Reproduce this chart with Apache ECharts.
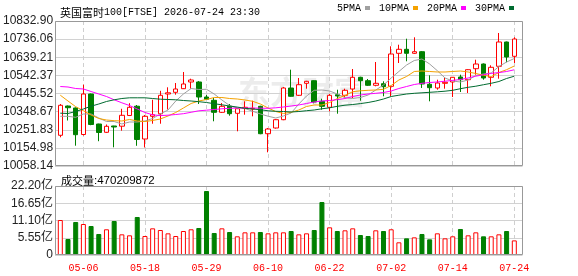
<!DOCTYPE html>
<html><head><meta charset="utf-8">
<script src="https://cdn.jsdelivr.net/npm/echarts@6/dist/echarts.min.js"></script>
<style>html,body{margin:0;padding:0;background:#fff}#c{width:578px;height:276px}</style>
</head><body><div id="c"></div>
<script>
const dates = ['04-30','05-01','05-05','05-06','05-07','05-08','05-11','05-12','05-13','05-14','05-15','05-18','05-19','05-20','05-21','05-22','05-26','05-27','05-28','05-29','06-01','06-02','06-03','06-04','06-05','06-08','06-09','06-10','06-11','06-12','06-15','06-16','06-17','06-18','06-19','06-22','06-23','06-24','06-25','06-26','06-29','06-30','07-01','07-02','07-03','07-06','07-07','07-08','07-09','07-10','07-13','07-14','07-15','07-16','07-17','07-20','07-21','07-22','07-23','07-24'];
const opens = [10222.2,10378.7,10368.1,10226.4,10442.8,10282.5,10238.2,10271.9,10270.8,10328.0,10377.7,10202.4,10323.7,10337.1,10442.9,10451.9,10471.2,10507.0,10507.0,10426.8,10409.2,10345.0,10377.1,10339.7,10366.4,10362.7,10377.1,10230.7,10261.2,10305.5,10474.9,10435.9,10500.0,10513.9,10403.8,10371.8,10439.1,10435.9,10469.6,10532.1,10513.9,10489.3,10497.9,10484.0,10660.3,10681.7,10660.3,10668.9,10494.9,10474.9,10500.0,10507.0,10533.7,10519.3,10578.0,10603.1,10532.1,10590.9,10720.7,10644.3];
const closes = [10382.5,10369.6,10225.4,10442.8,10279.9,10237.1,10270.2,10266.5,10329.0,10371.8,10199.7,10323.7,10332.2,10435.9,10449.3,10469.6,10496.3,10517.6,10426.8,10414.5,10345.0,10377.1,10337.6,10364.3,10371.8,10366.4,10230.7,10255.8,10305.5,10474.9,10430.6,10492.5,10510.7,10400.1,10377.1,10435.9,10432.2,10462.6,10532.1,10513.9,10489.3,10500.0,10481.9,10656.6,10681.7,10660.3,10668.9,10496.3,10476.5,10501.6,10505.4,10532.1,10519.3,10572.7,10603.1,10528.3,10585.5,10720.7,10640.5,10736.7];
const lows = [10211.5,10301.3,10166.6,10221.0,10276.0,10190.6,10234.5,10158.0,10246.8,10325.0,10166.1,10157.0,10284.0,10284.1,10360.0,10439.1,10469.6,10471.2,10389.4,10410.8,10297.0,10341.3,10326.9,10243.5,10332.2,10323.7,10228.0,10131.3,10258.0,10303.0,10428.0,10432.0,10471.2,10393.1,10358.9,10350.4,10337.6,10421.5,10421.5,10407.0,10485.6,10484.0,10430.6,10430.6,10608.5,10617.6,10656.6,10475.0,10403.8,10465.8,10471.2,10426.8,10453.5,10448.2,10546.0,10519.3,10484.0,10524.6,10612.2,10608.5];
const highs = [10389.4,10381.4,10371.0,10492.5,10445.0,10284.0,10279.9,10273.0,10363.8,10393.7,10384.0,10330.6,10412.4,10459.9,10478.6,10501.6,10560.4,10524.6,10512.0,10437.5,10421.5,10394.8,10389.4,10368.0,10403.8,10407.0,10380.0,10261.2,10308.0,10480.0,10572.7,10528.3,10513.0,10516.0,10417.7,10442.8,10465.8,10471.2,10576.4,10535.0,10523.0,10613.8,10510.7,10697.7,10706.3,10738.3,10745.8,10672.6,10542.8,10519.3,10528.3,10533.7,10546.0,10575.0,10626.1,10606.0,10596.2,10768.8,10723.0,10745.8];
const volumes = [11.26,5.15,10.62,9.97,9.33,6.76,8.27,10.94,6.65,6.33,12.23,6.11,8.58,8.04,6.97,6.11,7.72,8.27,8.69,20.59,7.08,8.58,7.40,6.01,7.29,7.29,7.40,6.97,7.29,7.29,7.72,6.65,6.97,8.04,17.05,8.90,7.72,7.94,8.58,6.43,6.11,7.94,7.72,8.27,4.08,5.36,5.68,6.76,5.04,6.97,5.36,6.01,8.37,6.33,7.29,6.01,6.01,6.65,7.72,4.70];
const ma5 = [10323.7,10323.7,10318.3,10336.0,10336.0,10314.6,10295.9,10295.9,10282.6,10293.2,10293.2,10298.6,10311.9,10336.0,10357.4,10405.4,10442.8,10472.2,10466.9,10468.0,10442.8,10410.8,10381.4,10368.0,10365.4,10350.4,10336.0,10324.2,10314.6,10325.3,10341.3,10389.4,10432.2,10462.6,10464.2,10458.9,10442.8,10423.1,10418.8,10424.1,10437.5,10464.2,10490.9,10528.3,10563.1,10597.8,10621.8,10629.9,10603.1,10567.3,10528.3,10512.3,10507.0,10517.7,10541.7,10549.7,10555.1,10589.8,10613.8,10632.5];
const ma10 = [10436.4,10405.4,10375.0,10353.6,10330.6,10311.9,10303.9,10300.2,10298.6,10306.6,10298.6,10295.9,10301.3,10309.3,10325.3,10344.0,10368.0,10392.1,10405.4,10413.5,10424.1,10424.1,10418.8,10416.1,10410.8,10403.8,10389.4,10368.0,10349.3,10338.7,10345.1,10357.4,10376.1,10384.1,10384.1,10397.4,10418.8,10434.8,10455.1,10459.9,10462.6,10464.2,10468.0,10488.3,10517.7,10536.4,10563.1,10565.7,10563.1,10560.4,10560.4,10563.1,10565.7,10560.4,10552.4,10542.8,10536.4,10557.7,10572.7,10592.5];
const ma20 = [10482.9,10480.2,10472.2,10469.6,10456.2,10442.8,10429.5,10411.9,10395.8,10381.4,10362.7,10344.0,10331.7,10327.4,10329.6,10333.3,10337.6,10345.1,10353.1,10356.3,10360.0,10363.8,10366.4,10368.0,10368.0,10368.0,10367.0,10366.4,10369.1,10373.4,10378.7,10384.1,10392.1,10400.1,10405.4,10408.1,10412.4,10418.8,10429.5,10437.5,10442.8,10446.6,10450.9,10458.9,10472.2,10482.9,10493.6,10500.0,10504.3,10507.0,10511.2,10515.5,10520.3,10528.3,10538.0,10546.0,10552.9,10557.2,10563.1,10572.2];
const ma30 = [10340.3,10338.7,10349.3,10362.7,10377.7,10389.4,10402.8,10411.9,10418.8,10422.5,10422.5,10422.5,10418.8,10415.1,10413.5,10411.9,10408.1,10405.4,10401.7,10397.4,10391.0,10385.1,10378.7,10372.9,10366.4,10362.7,10359.0,10353.1,10350.4,10349.3,10346.7,10349.3,10353.6,10357.4,10363.8,10369.1,10377.1,10383.0,10386.7,10391.6,10397.4,10405.4,10416.1,10429.5,10436.4,10442.8,10446.6,10449.3,10451.9,10454.6,10457.8,10462.6,10471.2,10478.6,10484.5,10492.5,10500.0,10509.6,10525.7,10538.0];
const priceTicks = ['10058.14','10154.98','10251.83','10348.67','10445.52','10542.37','10639.21','10736.06','10832.90'];
const volTicks = ['0','5.55亿','11.10亿','16.65亿','22.20亿'];
const labelDates = ['05-06','05-18','05-29','06-10','06-22','07-02','07-14','07-24'];
const maNames = ['5PMA','10PMA','20PMA','30PMA'];
const priceMin = 10058.14, priceMax = 10832.90, volMax = 22.20;
const titleName = '英国富时', titleRest = '100[FTSE] 2026-07-24 23:30';
const volLabel = '成交量', lastVolume = '470209872';

const UP = '#ff0000', DOWN = '#008000';
const maColors = ['#a0a0a0', '#f5a200', '#ff00ff', '#006b30'];
const maData = [ma5, ma10, ma20, ma30];
const showLabel = (idx, val) => labelDates.indexOf(val) >= 0;
const dashed = {show: true, interval: showLabel, lineStyle: {color: '#cfcfcf', type: [4, 3], width: 1}};
const mono = 'Liberation Mono, DejaVu Sans Mono, monospace';
const cjk = 'Noto Sans CJK SC';

const chart = echarts.init(document.getElementById('c'));
const option = {
  animation: false,
  backgroundColor: '#fff',
  title: [
    {text: '{a|' + titleName + '}{b|' + titleRest + '}', left: 55, top: 2,
     textStyle: {fontWeight: 'normal', rich: {a: {fontFamily: cjk, fontSize: 11, fontWeight: 'normal', color: '#000'}, b: {fontFamily: mono, fontSize: 10, fontWeight: 'normal', color: '#000'}}}},
    {text: '{a|' + volLabel + '}{b|:' + lastVolume + '}', left: 56, top: 170,
     textStyle: {fontWeight: 'normal', rich: {a: {fontFamily: cjk, fontSize: 11, fontWeight: 'normal', color: '#000'}, b: {fontFamily: 'Liberation Sans', fontSize: 11.5, fontWeight: 'normal', color: '#000'}}}}
  ],
  legend: {
    data: maNames, left: 337, top: 3, icon: 'rect', itemWidth: 5, itemHeight: 4, itemGap: 9, align: 'right',
    selectedMode: false, padding: 0,
    textStyle: {fontFamily: mono, fontSize: 10, color: '#000', padding: [0, -1, 0, 0]}
  },
  grid: [
    {left: 55, top: 21, width: 467.5, height: 145},
    {left: 60.3, top: 21, width: 454, height: 145},
    {left: 55, top: 186, width: 467.5, height: 69},
    {left: 60.3, top: 186, width: 454, height: 69}
  ],
  xAxis: [
    {gridIndex: 0, type: 'value', show: false, min: 0, max: 1},
    {gridIndex: 1, type: 'category', data: dates, boundaryGap: false, axisLine: {show: false}, axisTick: {show: false}, axisLabel: {show: false}, splitLine: dashed},
    {gridIndex: 2, type: 'value', show: false, min: 0, max: 1},
    {gridIndex: 3, type: 'category', data: dates, boundaryGap: false, axisLine: {show: false}, axisTick: {show: false},
     axisLabel: {show: true, interval: showLabel, color: UP, fontFamily: mono, fontSize: 10, margin: 8}, splitLine: dashed}
  ],
  yAxis: [
    {gridIndex: 0, type: 'value', min: 0, max: priceTicks.length - 1, interval: 1, axisLine: {show: false}, axisTick: {show: false},
     axisLabel: {formatter: v => priceTicks[v], margin: 2, color: '#222', fontFamily: 'Liberation Sans', fontSize: 12},
     splitLine: {lineStyle: {color: '#d2d2d2'}}},
    {gridIndex: 1, type: 'value', min: priceMin, max: priceMax, show: false, splitLine: {show: false}},
    {gridIndex: 2, type: 'value', min: 0, max: volTicks.length - 1, interval: 1, axisLine: {show: false}, axisTick: {show: false},
     axisLabel: {formatter: v => volTicks[v], margin: 2, color: '#222', fontFamily: 'Liberation Sans, ' + cjk, fontSize: 12},
     splitLine: {lineStyle: {color: '#d2d2d2'}}},
    {gridIndex: 3, type: 'value', min: 0, max: volMax, show: false, splitLine: {show: false}}
  ],
  graphic: [
    {type: 'text', z: 0, silent: true, style: {text: '东方财富', x: 302, y: 92, align: 'center', verticalAlign: 'middle',
      font: 'bold 32px "Noto Sans CJK SC"', fill: 'rgba(0,0,0,0.075)'}},
    {type: 'rect', z: 50, silent: true, shape: {x: 55.5, y: 21.5, width: 467, height: 144}, style: {fill: 'none', stroke: '#999', lineWidth: 1}},
    {type: 'rect', z: 50, silent: true, shape: {x: 55.5, y: 186.5, width: 467, height: 68}, style: {fill: 'none', stroke: '#999', lineWidth: 1}}
  ],
  series: [
    {type: 'candlestick', xAxisIndex: 1, yAxisIndex: 1, barWidth: 5, clip: false,
     data: dates.map((d, i) => [opens[i], closes[i], lows[i], highs[i]]),
     itemStyle: {color: '#fff', color0: DOWN, borderColor: UP, borderColor0: DOWN, borderWidth: 1}},
    ...maNames.map((n, k) => ({
      name: n, type: 'line', xAxisIndex: 1, yAxisIndex: 1, data: maData[k], symbol: 'none', showSymbol: false,
      clip: false, color: maColors[k], lineStyle: {width: 1, color: maColors[k]}, z: 3
    })),
    {type: 'bar', xAxisIndex: 3, yAxisIndex: 3, barWidth: 5, clip: false,
     data: volumes.map((v, i) => ({value: v, itemStyle: closes[i] >= opens[i]
       ? {color: '#fff', borderColor: UP, borderWidth: 1}
       : {color: DOWN, borderColor: DOWN, borderWidth: 1}}))}
  ]
};
chart.setOption(option);
</script></body></html>
